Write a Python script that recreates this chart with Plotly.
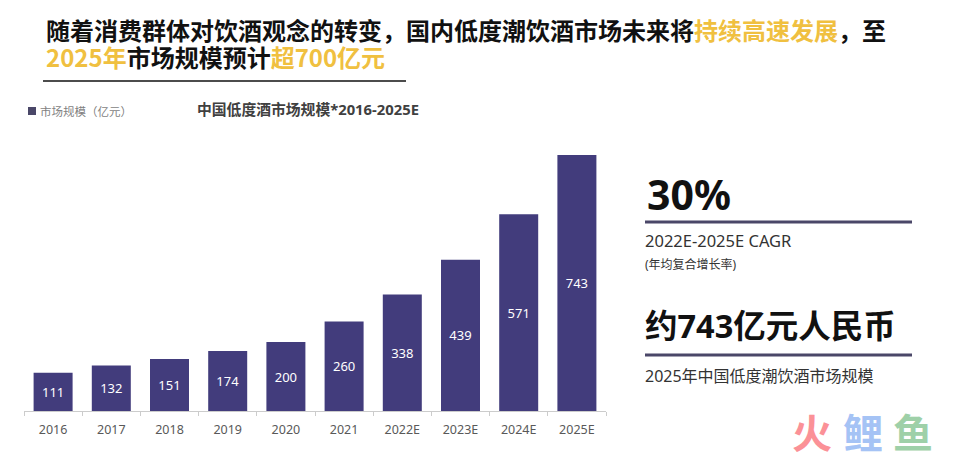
import plotly.graph_objects as go

WIDTH = 959
HEIGHT = 460
LEFT, RIGHT, TOP, BOTTOM = 24, 606, 155, 411
FONT = "Noto Sans, Noto Sans CJK SC, sans-serif"
CJK = "Noto Sans CJK SC, sans-serif"
GOLD = "#f0c040"
BAR = "#423c7c"
RULE = "#4a4768"

years = ["2016", "2017", "2018", "2019", "2020", "2021", "2022E", "2023E", "2024E", "2025E"]
market_size = [111, 132, 151, 174, 200, 260, 338, 439, 571, 743]

series_name = "市场规模（亿元）"
chart_title = "中国低度酒市场规模*2016-2025E"
headline_1 = f'随着消费群体对饮酒观念的转变，国内低度潮饮酒市场未来将<span style="color:{GOLD}">持续高速发展</span>，至'
headline_2 = f'<span style="color:{GOLD}">2025年</span>市场规模预计<span style="color:{GOLD}">超700亿元</span>'


# paper coordinates run over the plot area, not the whole page
def px(x):
    return (x - LEFT) / (RIGHT - LEFT)


def py(y):
    return (BOTTOM - y) / (BOTTOM - TOP)


def label(fig, x, y, text, size, color="#222222", bold=False, family=FONT):
    fig.add_annotation(
        xref="paper", yref="paper", x=px(x), y=py(y),
        xanchor="left", yanchor="middle", showarrow=False,
        borderpad=0, borderwidth=0,
        text=f"<b>{text}</b>" if bold else text,
        font=dict(size=size, color=color, family=family),
    )


def rule(fig, x0, x1, y, color, width):
    fig.add_shape(
        type="line", xref="paper", yref="paper",
        x0=px(x0), x1=px(x1), y0=py(y), y1=py(y),
        line=dict(color=color, width=width),
    )


fig = go.Figure(
    go.Bar(
        x=years,
        y=market_size,
        name=series_name,
        marker=dict(color=BAR, line=dict(width=0)),
        text=market_size,
        textposition="inside",
        insidetextanchor="middle",
        textangle=0,
        constraintext="none",
        textfont=dict(color="white", size=13, family=FONT),
        showlegend=False,
    )
)

fig.update_layout(
    width=WIDTH,
    height=HEIGHT,
    margin=dict(l=LEFT, r=WIDTH - RIGHT, t=TOP, b=HEIGHT - BOTTOM),
    paper_bgcolor="white",
    plot_bgcolor="white",
    bargap=0.33,
    font=dict(family=FONT),
    title=dict(
        text=chart_title,
        font=dict(size=14.8, color="#404040", family=FONT, weight="bold"),
        x=197 / WIDTH, xanchor="left",
        y=1 - 110 / HEIGHT, yanchor="middle",
    ),
)

fig.update_xaxes(
    type="category",
    tickson="boundaries",
    ticks="outside",
    ticklen=4,
    tickcolor="#cccccc",
    linecolor="#cccccc",
    showline=True,
    showgrid=False,
    ticklabelstandoff=7,
    tickfont=dict(size=12.5, color="#595959", family=FONT),
)
fig.update_yaxes(visible=False, range=[0, 743], showgrid=False)

label(fig, 46, 29, headline_1, 24, color="#111111", bold=True, family=CJK)
label(fig, 46, 56, headline_2, 24, color="#111111", bold=True, family=CJK)
rule(fig, 43, 406, 81, "#111111", 1.5)

# series key, drawn by hand so the swatch sits tight against its text
fig.add_shape(
    type="rect", xref="paper", yref="paper",
    x0=px(28), x1=px(36), y0=py(107), y1=py(115),
    fillcolor=RULE, line=dict(width=0),
)
label(fig, 40, 111, series_name, 11.5, color="#7f7f7f", family=CJK)

label(fig, 647, 194, "30%", 41, color="#111111", bold=True)
rule(fig, 645, 912, 222, RULE, 3)
label(fig, 645, 240, "2022E-2025E CAGR", 16.5, color="#333333")
label(fig, 645, 264, "(年均复合增长率)", 12, color="#333333")

label(fig, 645, 325, "约743亿元人民币", 32.5, color="#111111", bold=True)
rule(fig, 645, 912, 355, RULE, 3)
label(fig, 645, 376, "2025年中国低度潮饮酒市场规模", 16, color="#333333")

# watermark
label(fig, 792, 430.5, "火", 40, color="#fb9197", bold=True, family=CJK)
label(fig, 843, 430.5, "鲤", 40, color="#a5c3f5", bold=True, family=CJK)
label(fig, 893, 430.5, "鱼", 40, color="#9ed0a8", bold=True, family=CJK)

fig.write_html(
    "out.html",
    config=dict(displayModeBar=False),
    post_script="document.body.style.margin='0';",
)
